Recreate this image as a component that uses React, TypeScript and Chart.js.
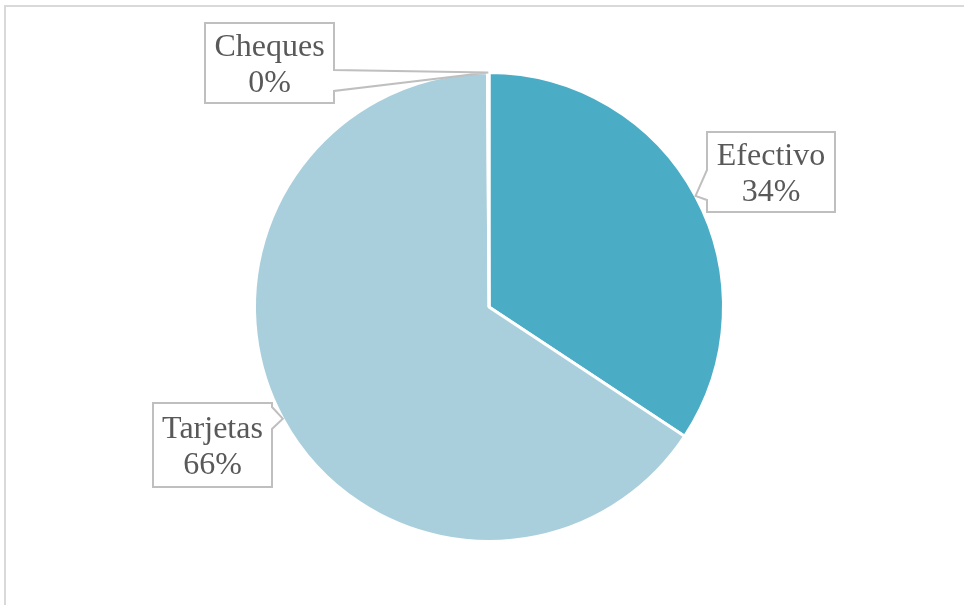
import React, { useEffect, useRef } from "react";
import { Chart, registerables } from "chart.js";

Chart.register(...registerables);

const labels = ["Efectivo", "Tarjetas", "Cheques"];
const values = [34.3, 65.6, 0.1];
const colors = ["#4BACC6", "#A9CFDC", "#A9CFDC"];

// callout box placement (layout only)
const callouts = [
  { x: 707, y: 132, w: 128, h: 80, side: "left", t1: 38, t2: 68 },
  { x: 153, y: 403, w: 119, h: 84, side: "right", t1: 4, t2: 26 },
  { x: 205, y: 23, w: 129, h: 80, side: "right", t1: 47, t2: 68 },
];

const calloutPlugin = {
  id: "callouts",
  beforeDraw(chart: any) {
    const ctx = chart.ctx;
    ctx.save();
    ctx.fillStyle = "#ffffff";
    ctx.fillRect(0, 0, chart.width, chart.height);
    ctx.strokeStyle = "#d9d9d9";
    ctx.lineWidth = 2;
    ctx.beginPath();
    ctx.moveTo(5, 605);
    ctx.lineTo(5, 6);
    ctx.lineTo(964, 6);
    ctx.stroke();
    ctx.restore();
  },
  afterDraw(chart: any) {
    const ctx = chart.ctx;
    const meta = chart.getDatasetMeta(0);
    const data = chart.data.datasets[0].data as number[];
    const total = data.reduce((a, b) => a + b, 0);
    ctx.save();
    meta.data.forEach((arc: any, i: number) => {
      const c = callouts[i];
      if (!c) return;
      const p = arc.getProps(["x", "y", "startAngle", "endAngle", "outerRadius"], true);
      const mid = (p.startAngle + p.endAngle) / 2;
      const tx = p.x + Math.cos(mid) * p.outerRadius;
      const ty = p.y + Math.sin(mid) * p.outerRadius;
      const l = c.x, t = c.y, r = c.x + c.w, b = c.y + c.h;
      ctx.beginPath();
      if (c.side === "right") {
        ctx.moveTo(l, t);
        ctx.lineTo(r, t);
        ctx.lineTo(r, t + c.t1);
        ctx.lineTo(tx, ty);
        ctx.lineTo(r, t + c.t2);
        ctx.lineTo(r, b);
        ctx.lineTo(l, b);
        ctx.closePath();
      } else {
        ctx.moveTo(l, t);
        ctx.lineTo(r, t);
        ctx.lineTo(r, b);
        ctx.lineTo(l, b);
        ctx.lineTo(l, t + c.t2);
        ctx.lineTo(tx, ty);
        ctx.lineTo(l, t + c.t1);
        ctx.closePath();
      }
      ctx.fillStyle = "#ffffff";
      ctx.fill();
      ctx.strokeStyle = "#bfbfbf";
      ctx.lineWidth = 2;
      ctx.stroke();
      const pct = Math.round((data[i] / total) * 100) + "%";
      ctx.fillStyle = "#595959";
      ctx.font = "32px 'Liberation Serif', 'Times New Roman', serif";
      ctx.textAlign = "center";
      ctx.textBaseline = "alphabetic";
      const cx = l + c.w / 2;
      const cy = t + c.h / 2;
      ctx.fillText(chart.data.labels[i], cx, cy - 7);
      ctx.fillText(pct, cx, cy + 29);
    });
    ctx.restore();
  },
};

export default function App() {
  const ref = useRef<HTMLCanvasElement | null>(null);
  useEffect(() => {
    document.body.style.margin = "0";
    const chart = new Chart(ref.current as HTMLCanvasElement, {
      type: "pie",
      data: {
        labels,
        datasets: [
          {
            data: values,
            backgroundColor: colors,
            borderColor: "#ffffff",
            borderWidth: 3,
          },
        ],
      },
      options: {
        responsive: false,
        animation: false,
        layout: { padding: { left: 253, right: 240, top: 71, bottom: 62 } },
        plugins: {
          legend: { display: false },
          tooltip: { enabled: false },
        },
      },
      plugins: [calloutPlugin],
    });
    return () => chart.destroy();
  }, []);
  return (
    <div style={{ width: 965, height: 605 }}>
      <canvas ref={ref} width={965} height={605} style={{ display: "block" }} />
    </div>
  );
}
